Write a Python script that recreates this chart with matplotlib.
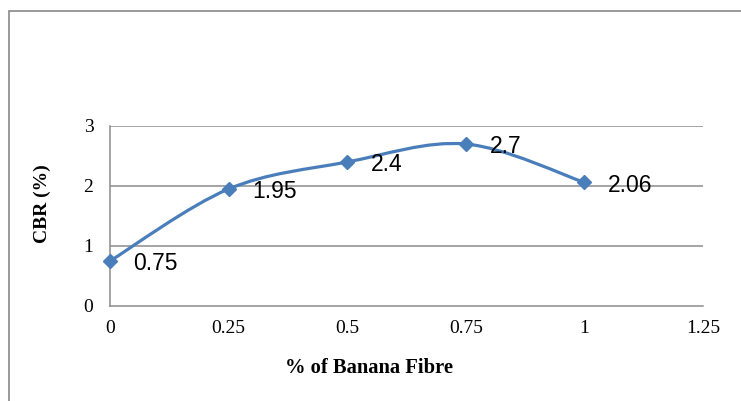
import matplotlib
matplotlib.use("Agg")
import matplotlib.pyplot as plt
from matplotlib.path import Path
from matplotlib.patches import PathPatch, Rectangle
import numpy as np

# CBR test results for varying banana fibre content
fibre_pct = [0, 0.25, 0.5, 0.75, 1.0]
cbr_vals = [0.75, 1.95, 2.4, 2.7, 2.06]
cbr_labels = ["0.75", "1.95", "2.4", "2.7", "2.06"]
x_ticks = [0, 0.25, 0.5, 0.75, 1, 1.25]
x_tick_labels = ["0", "0.25", "0.5", "0.75", "1", "1.25"]
y_ticks = [0, 1, 2, 3]

W, H = 741, 401
fig = plt.figure(figsize=(W / 100, H / 100), dpi=100)
fig.patch.set_facecolor("white")

# outer chart frame (runs past the right and bottom edges)
fig.add_artist(Rectangle((8.5 / W, -0.1), 1.2, 1.1 - 11.5 / H,
                         transform=fig.transFigure, fill=False,
                         edgecolor="#878787", linewidth=1.2))

ax = fig.add_axes([110 / W, (H - 306) / H, 593 / W, 180 / H])
ax.set_xlim(0, 1.25)
ax.set_ylim(0, 3)

grid_c = "#8c8c8c"
for y in y_ticks[1:]:
    ax.axhline(y, color=grid_c, linewidth=1.1, zorder=1)
for s in ["top", "right"]:
    ax.spines[s].set_visible(False)
for s in ["left", "bottom"]:
    ax.spines[s].set_color(grid_c)
    ax.spines[s].set_linewidth(1.1)

serif = "Liberation Serif"
ax.set_xticks(x_ticks)
ax.set_xticklabels(x_tick_labels, fontfamily=serif, fontsize=14)
ax.set_yticks(y_ticks)
ax.set_yticklabels([str(v) for v in y_ticks], fontfamily=serif, fontsize=14)
ax.tick_params(axis="x", length=0, pad=10)
ax.tick_params(axis="y", length=0, pad=12)

# smoothed connecting line (cubic Bezier through the data points)
line_c = "#4a7ebb"
xs = np.array(fibre_pct, dtype=float)
ys = np.array(cbr_vals, dtype=float)
pts = np.column_stack([xs, ys])
n = len(pts)
verts = [tuple(pts[0])]
codes = [Path.MOVETO]
for i in range(n - 1):
    p0 = pts[max(i - 1, 0)]
    p1 = pts[i]
    p2 = pts[i + 1]
    p3 = pts[min(i + 2, n - 1)]
    c1 = p1 + (p2 - p0) / 6.0
    c2 = p2 - (p3 - p1) / 6.0
    verts += [tuple(c1), tuple(c2), tuple(p2)]
    codes += [Path.CURVE4] * 3
ax.add_patch(PathPatch(Path(verts, codes), facecolor="none",
                       edgecolor=line_c, linewidth=2.3, zorder=3,
                       capstyle="round", joinstyle="round"))
ax.plot(fibre_pct, cbr_vals, linestyle="none", marker="D", markersize=7,
        color=line_c, zorder=4, clip_on=False)

for xv, yv, lab in zip(fibre_pct, cbr_vals, cbr_labels):
    ax.annotate(lab, (xv, yv), xytext=(17, -2), textcoords="offset points",
                ha="left", va="center", fontsize=16.5,
                fontfamily="Liberation Sans", color="black", zorder=5)

fig.text(369 / W, 1 - 368 / H, "% of Banana Fibre", ha="center", va="center",
         fontfamily=serif, fontweight="bold", fontsize=14.8)
fig.text(42 / W, 1 - 204 / H, "CBR (%)", ha="center", va="center",
         rotation=90, fontfamily=serif, fontweight="bold", fontsize=14)

fig.savefig("out.png", dpi=100, facecolor="white")
